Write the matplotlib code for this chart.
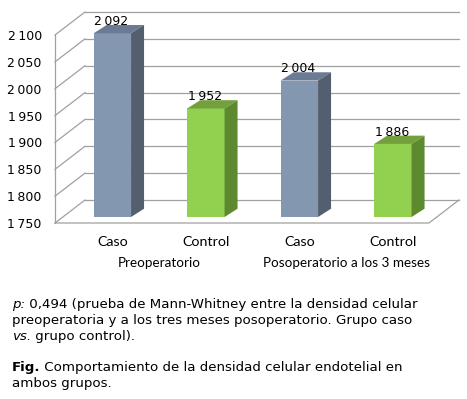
import matplotlib
matplotlib.use("Agg")
import matplotlib.pyplot as plt
from matplotlib.patches import Polygon
from matplotlib.transforms import blended_transform_factory, ScaledTranslation
import numpy as np

# data
categories = ["Caso", "Control", "Caso", "Control"]
groups = ["Preoperatorio", "Posoperatorio a los 3 meses"]
values = [2092, 1952, 2004, 1886]
y_ticks = [1750, 1800, 1850, 1900, 1950, 2000, 2050, 2100]

face_cols = ["#8497b0", "#92d050", "#8497b0", "#92d050"]
top_cols = ["#6a7b93", "#73a03c", "#6a7b93", "#73a03c"]
side_cols = ["#535e6e", "#5e8a2f", "#535e6e", "#5e8a2f"]
grid_col = "#a0a0a0"

W, H = 467, 399
fig = plt.figure(figsize=(W / 100, H / 100), dpi=100)
plt.rcParams['font.family'] = ['DejaVu Sans']


def fx(px):
    return px / W


def fy(py):
    return 1 - py / H


# axes = front plane of the 3d box
ax_l, ax_r, ax_t, ax_b = 55, 429, 35, 223
ax = fig.add_axes([fx(ax_l), fy(ax_b), (ax_r - ax_l) / W, (ax_b - ax_t) / H])
xmin, xmax = -0.53, 3.47
ymin, ymax = 1750, 2100
ax.set_xlim(xmin, xmax)
ax.set_ylim(ymin, ymax)
for s in ax.spines.values():
    s.set_visible(False)
ax.set_xticks([])
ax.set_yticks(y_ticks)
ax.set_yticklabels([f"{v // 1000}\u2009{v % 1000:03d}" for v in y_ticks], fontsize=9)
ax.tick_params(axis='y', length=0, pad=9.5)
ax.patch.set_alpha(0)

# pixel -> data units
sx = (xmax - xmin) / (ax_r - ax_l)
sy = (ymax - ymin) / (ax_b - ax_t)
wall_dx, wall_dy = 30 * sx, 23 * sy
bar_ox, bar_oy = 7.8 * sx, 6 * sy
dep_x, dep_y = 13 * sx, 8.3 * sy
lw = 0.9

# walls and floor
for v in y_ticks:
    ax.plot([xmin + wall_dx, xmax + wall_dx], [v + wall_dy, v + wall_dy],
            color=grid_col, lw=lw, clip_on=False, zorder=1)
    ax.plot([xmin, xmin + wall_dx], [v, v + wall_dy],
            color=grid_col, lw=lw, clip_on=False, zorder=1)
ax.plot([xmin, xmin], [ymin, ymax], color=grid_col, lw=lw, clip_on=False, zorder=1)
ax.plot([xmin, xmax, xmax + wall_dx], [ymin, ymin, ymin + wall_dy],
        color=grid_col, lw=lw, clip_on=False, zorder=1)

# bars
x = np.arange(len(values))
bw = 0.4
cx = x + bar_ox
bot = ymin + bar_oy
heights = np.array(values) - ymin
ax.bar(cx, heights, bottom=bot, width=bw, color=face_cols, zorder=3, clip_on=False)
for i, v in enumerate(values):
    top = v + bar_oy
    l, r = cx[i] - bw / 2, cx[i] + bw / 2
    ax.add_patch(Polygon([(l, top), (r, top), (r + dep_x, top + dep_y), (l + dep_x, top + dep_y)],
                         closed=True, facecolor=top_cols[i], edgecolor='none', zorder=3, clip_on=False))
    ax.add_patch(Polygon([(r, bot), (r + dep_x, bot + dep_y), (r + dep_x, top + dep_y), (r, top)],
                         closed=True, facecolor=side_cols[i], edgecolor='none', zorder=3, clip_on=False))
    ax.text(cx[i] - 0.01, top + dep_y, f"{v // 1000}\u2009{v % 1000:03d}", ha='center', va='baseline',
            fontsize=9, zorder=4, clip_on=False)

# category and group labels
lab_tr = blended_transform_factory(ax.transData, ax.transAxes)
for i, lab in enumerate(categories):
    ax.text(cx[i], 0, lab, transform=lab_tr + ScaledTranslation(0, -0.19, fig.dpi_scale_trans),
            ha='center', va='center', fontsize=10.3, family='Lato')
for g, lab in enumerate(groups):
    mid = (cx[2 * g] + cx[2 * g + 1]) / 2
    ax.text(mid, 0, lab, transform=lab_tr + ScaledTranslation(0, -0.40, fig.dpi_scale_trans),
            ha='center', va='center', fontsize=9.7, family='Lato')


# caption below the chart
cap_fs = 9.6


def chain(parts, px, py):
    prev = None
    for txt, kw in parts:
        if prev is None:
            prev = fig.text(fx(px), fy(py), txt, va='baseline', fontsize=cap_fs, **kw)
        else:
            prev = ax.annotate(txt, xy=(1, 0), xycoords=prev, va='bottom', ha='left',
                               fontsize=cap_fs, annotation_clip=False, **kw)


chain([("p:", {'style': 'italic'}), (" 0,494 (prueba de Mann-Whitney entre la densidad celular", {})], 12, 308)
chain([("preoperatoria y a los tres meses posoperatorio. Grupo caso", {})], 12, 324)
chain([("vs.", {'style': 'italic'}), (" grupo control).", {})], 12, 340)
chain([("Fig.", {'weight': 'bold'}), (" Comportamiento de la densidad celular endotelial en", {})], 12, 371.5)
chain([("ambos grupos.", {})], 12, 387.5)

fig.savefig("out.png", dpi=100)
